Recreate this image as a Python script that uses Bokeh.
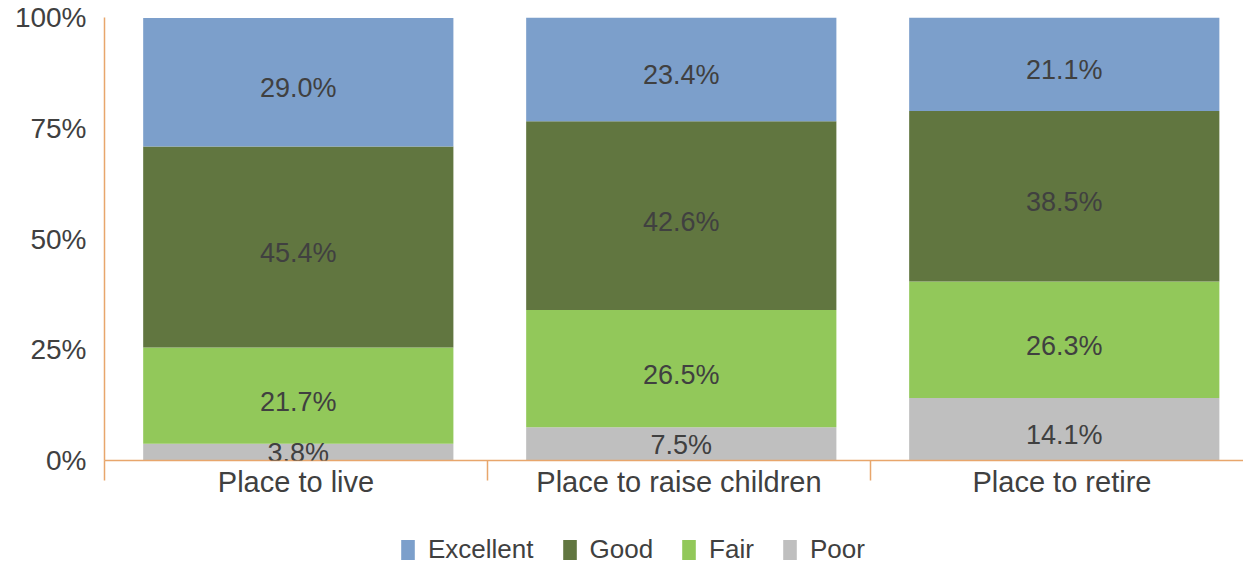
from bokeh.plotting import figure
from bokeh.models import (ColumnDataSource, FixedTicker, Legend, LegendItem,
                          LabelSet, Range1d)
from bokeh.layouts import column
from bokeh.core.properties import value
from bokeh.transform import dodge
from bokeh.embed import file_html
from bokeh.resources import INLINE

categories = ["Place to live", "Place to raise children", "Place to retire"]
ratings = ["Poor", "Fair", "Good", "Excellent"]
poor = [3.8, 7.5, 14.1]
fair = [21.7, 26.5, 26.3]
good = [45.4, 42.6, 38.5]
excellent = [29.0, 23.4, 21.1]
y_ticks = [0, 25, 50, 75, 100]
y_tick_labels = ["0%", "25%", "50%", "75%", "100%"]
legend_order = ["Excellent", "Good", "Fair", "Poor"]

colors = {"Excellent": "#7C9FCB", "Good": "#617640", "Fair": "#92C85A", "Poor": "#BFBFBF"}
AXIS = "#E8A66C"
TEXT = "#404040"
FONT = "Liberation Sans"

x = [i + 0.5 for i in range(len(categories))]
src = ColumnDataSource(dict(x=x, Poor=poor, Fair=fair, Good=good, Excellent=excellent))

p = figure(width=1243, height=500, output_backend="svg", toolbar_location=None,
           x_range=Range1d(0, 2.974), y_range=Range1d(0, 100),
           min_border_left=104, min_border_right=0, min_border_top=17, min_border_bottom=39)
p.outline_line_color = None
p.grid.grid_line_color = None
p.background_fill_color = "white"

rs = p.vbar_stack(ratings, x=dodge("x", 0.006, range=p.x_range), width=0.81, source=src,
                  color=[colors[r] for r in ratings], line_color=None)

# data labels
lx, ly, lt, lo = [], [], [], []
series = [poor, fair, good, excellent]
for i in range(len(categories)):
    base = 0.0
    for k, s in enumerate(series):
        v = s[i]
        lx.append(x[i] + 0.006); ly.append(base + v / 2); lt.append(f"{v:.1f}%")
        lo.append(-1 if (k == 0 and v < 10) else -6)
        base += v
lsrc = ColumnDataSource(dict(x=lx, y=ly, t=lt, o=lo))
labels = LabelSet(x="x", y="y", text="t", source=lsrc, text_align="center",
                  text_baseline="middle", y_offset="o", text_font=value(FONT),
                  text_font_size="27px", text_color=TEXT)
p.add_layout(labels)

# x axis
xa = p.xaxis[0]
xa.ticker = FixedTicker(ticks=x, minor_ticks=[0, 1, 2, 3])
xa.major_label_overrides = {v: c for v, c in zip(x, categories)}
xa.major_tick_out = 0
xa.major_tick_in = 0
xa.minor_tick_out = 20
xa.minor_tick_in = 0
xa.minor_tick_line_color = AXIS
xa.minor_tick_line_width = 1.5
xa.axis_line_color = AXIS
xa.axis_line_width = 1.5
xa.major_label_standoff = -15
xa.major_label_text_font = FONT
xa.major_label_text_font_size = "29px"
xa.major_label_text_color = TEXT

ya = p.yaxis[0]
ya.ticker = FixedTicker(ticks=y_ticks, minor_ticks=[])
ya.major_label_overrides = {v: l for v, l in zip(y_ticks, y_tick_labels)}
ya.major_tick_out = 0
ya.major_tick_in = 0
ya.axis_line_color = AXIS
ya.axis_line_width = 1.5
ya.major_label_standoff = 18
ya.major_label_text_font = FONT
ya.major_label_text_font_size = "28px"
ya.major_label_text_color = TEXT

# legend in a small figure below
p2 = figure(width=1243, height=65, output_backend="svg", toolbar_location=None,
            x_range=Range1d(0, 1), y_range=Range1d(0, 1),
            x_axis_type=None, y_axis_type=None, min_border=0)
p2.grid.grid_line_color = None
p2.outline_line_color = None
dummy = {}
for r in legend_order:
    dummy[r] = p2.vbar(x=[5], top=[1], width=0.1, color=colors[r], line_color=None)
items = [LegendItem(label=r, renderers=[dummy[r]]) for r in legend_order]
legend = Legend(items=items, orientation="horizontal", location=(295, 0),
                label_text_font=FONT, label_text_font_size="26px",
                label_text_color=TEXT, glyph_width=17, glyph_height=25,
                label_standoff=12, spacing=27, border_line_color=None,
                background_fill_alpha=0, padding=0, margin=0)
p2.add_layout(legend, "center")

open("out.html", "w").write(file_html(column(p, p2, spacing=0), INLINE))
